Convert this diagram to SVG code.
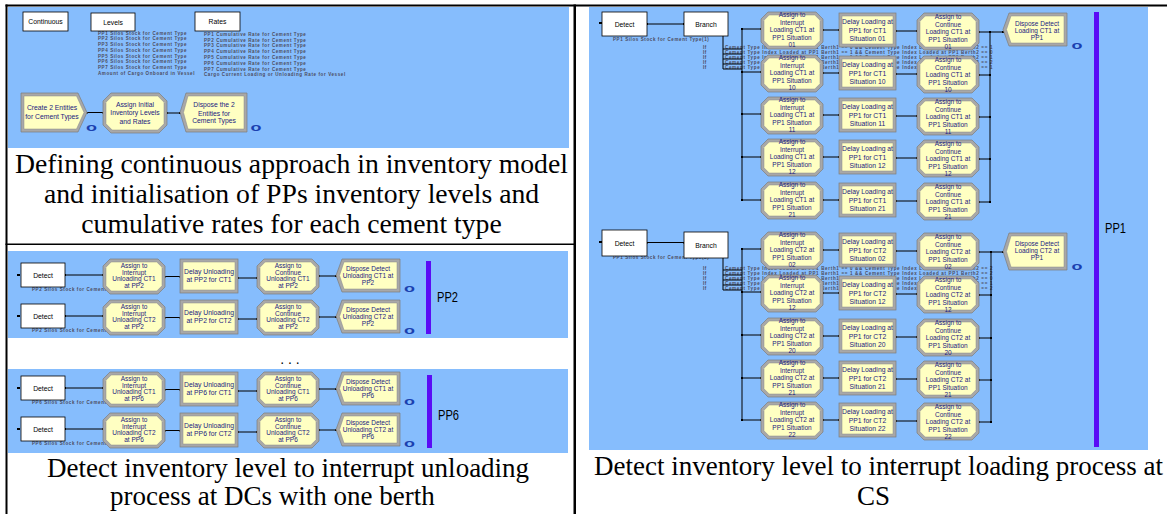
<svg xmlns="http://www.w3.org/2000/svg" xmlns:xlink="http://www.w3.org/1999/xlink" width="1167" height="514" viewBox="0 0 1167 514">
<style>
.bg{fill:#86bdfd}
.blk{fill:#000}
.box{fill:#fff;stroke:#000;stroke-width:0.8}
.lbl{font-family:"Liberation Sans",Arial,sans-serif;font-size:6.8px;fill:#000;text-anchor:middle}
.nt{font-family:"Liberation Sans",Arial,sans-serif;font-size:6.5px;fill:#1b1b80;text-anchor:middle}
.nd{font-family:"Liberation Sans",Arial,sans-serif;font-size:6.8px;fill:#1b1b80;text-anchor:middle}
.tiny{font-family:"Liberation Sans",Arial,sans-serif;font-size:4.5px;font-weight:bold;fill:#4b4b5e;letter-spacing:0.6px}
.cnt{font-family:"Liberation Sans",Arial,sans-serif;font-size:10px;font-weight:bold;fill:#1a40b0;text-anchor:middle}
.conn line{stroke:#000;stroke-width:1;marker-start:url(#pt);marker-end:url(#pt)}
.conn .bus{stroke:#000;stroke-width:1;marker-start:none;marker-end:none}
.bar{fill:#5a0cf5}
.pp{font-family:"Liberation Sans",Arial,sans-serif;font-size:15px;fill:#000}
.cap{font-family:"Liberation Serif","Times New Roman",serif;font-size:27px;fill:#000}
.capt{font-family:"Liberation Serif","Times New Roman",serif;font-size:27.7px;fill:#000;text-anchor:middle}
.og{fill:#a8a8a8;stroke:#7d7d7d;stroke-width:0.7}
.iy{fill:#ffffc2;stroke:#8a8a8a;stroke-width:0.5}
</style>
<defs>
<marker id="pt" markerUnits="userSpaceOnUse" markerWidth="2" markerHeight="2" refX="1" refY="1"><rect width="2" height="2" fill="#000"/></marker>
<g id="asL"><path class="og" d="M7,0H55L62,7V28L55,35H7L0,28V7Z"/><path class="iy" d="M8.2,3H53.8L59,8.2V26.8L53.8,32H8.2L3,26.8V8.2Z"/></g>
<g id="asR"><path class="og" d="M7,0H55L62,7V30L55,37H7L0,30V7Z"/><path class="iy" d="M8.2,3H53.8L59,8.2V28.8L53.8,34H8.2L3,28.8V8.2Z"/></g>
<g id="dlL"><rect class="og" width="58" height="34"/><rect class="iy" x="3" y="3" width="52" height="28"/></g>
<g id="dlR"><rect class="og" width="57" height="34"/><rect class="iy" x="3" y="3" width="51" height="28"/></g>
<g id="dsL"><path class="og" d="M6,0H64V33H6L0,16.5Z"/><path class="iy" d="M8,3H61V30H8L3.5,16.5Z"/></g>
<g id="dsR"><path class="og" d="M6,0H64V37H6L0,18.5Z"/><path class="iy" d="M8,3H61V34H8L3.5,18.5Z"/></g>
</defs>

<!-- frame and backgrounds -->
<rect class="bg" x="8" y="7" width="561" height="141"/>
<rect class="bg" x="8" y="251" width="560" height="87"/>
<rect class="bg" x="8" y="369" width="560" height="84"/>
<rect class="bg" x="589" y="7" width="559" height="443"/>
<rect class="blk" x="5.5" y="4.5" width="1161.5" height="2"/>
<rect class="blk" x="5.5" y="4.5" width="2" height="510"/>
<rect class="blk" x="573.5" y="4.5" width="2.5" height="510"/>
<rect class="blk" x="5.5" y="243.5" width="570" height="1.5"/>

<!-- tiny Arena texts -->
<g id="levels-list" class="tiny">
<text x="98" y="35">PP1 Silos Stock for Cement Type</text>
<text x="98" y="40.4">PP2 Silos Stock for Cement Type</text>
<text x="98" y="46">PP3 Silos Stock for Cement Type</text>
<text x="98" y="51.6">PP4 Silos Stock for Cement Type</text>
<text x="98" y="57.6">PP5 Silos Stock for Cement Type</text>
<text x="98" y="63.3">PP6 Silos Stock for Cement Type</text>
<text x="98" y="69">PP7 Silos Stock for Cement Type</text>
<text x="98" y="74.6">Amount of Cargo Onboard in Vessel</text>
</g>
<g id="rates-list" class="tiny">
<text x="204" y="36.3">PP1 Cumulative Rate for Cement Type</text>
<text x="204" y="41.6">PP2 Cumulative Rate for Cement Type</text>
<text x="204" y="47.3">PP3 Cumulative Rate for Cement Type</text>
<text x="204" y="53.3">PP4 Cumulative Rate for Cement Type</text>
<text x="204" y="58.6">PP5 Cumulative Rate for Cement Type</text>
<text x="204" y="64.6">PP6 Cumulative Rate for Cement Type</text>
<text x="204" y="70.6">PP7 Cumulative Rate for Cement Type</text>
<text x="204" y="75.6">Cargo Current Loading or Unloading Rate for Vessel</text>
</g>
<g id="detect-labels" class="tiny">
<text x="32" y="291">PP2 Silos Stock for Cement Type(1)</text>
<text x="32" y="332">PP2 Silos Stock for Cement Type(2)</text>
<text x="32" y="404">PP6 Silos Stock for Cement Type(1)</text>
<text x="32" y="445">PP6 Silos Stock for Cement Type(2)</text>
<text x="613" y="40.5">PP1 Silos Stock for Cement Type(1)</text>
<text x="613" y="259">PP1 Silos Stock for Cement Type(2)</text>
</g>
<g id="branch1-conditions" class="tiny">
<text x="703" y="48.5">If</text><text x="703" y="53.5">If</text><text x="703" y="58.5">If</text><text x="703" y="63.5">If</text><text x="703" y="68.5">If</text>
<text x="725" y="48.5" textLength="268">Cement Type Index Loaded at PP1 Berth1 == 0 &amp;&amp; Cement Type Index Loaded at PP1 Berth2 == 1</text>
<text x="725" y="53.5" textLength="268">Cement Type Index Loaded at PP1 Berth1 == 1 &amp;&amp; Cement Type Index Loaded at PP1 Berth2 == 0</text>
<text x="725" y="58.5" textLength="268">Cement Type Index Loaded at PP1 Berth1 == 1 &amp;&amp; Cement Type Index Loaded at PP1 Berth2 == 1</text>
<text x="725" y="63.5" textLength="268">Cement Type Index Loaded at PP1 Berth1 == 1 &amp;&amp; Cement Type Index Loaded at PP1 Berth2 == 2</text>
<text x="725" y="68.5" textLength="268">Cement Type Index Loaded at PP1 Berth1 == 2 &amp;&amp; Cement Type Index Loaded at PP1 Berth2 == 1</text>
</g>
<g id="branch2-conditions" class="tiny">
<text x="703" y="269.5">If</text><text x="703" y="274.5">If</text><text x="703" y="279.5">If</text><text x="703" y="284.5">If</text><text x="703" y="289.5">If</text>
<text x="725" y="269.5" textLength="268">Cement Type Index Loaded at PP1 Berth1 == 0 &amp;&amp; Cement Type Index Loaded at PP1 Berth2 == 2</text>
<text x="725" y="274.5" textLength="268">Cement Type Index Loaded at PP1 Berth1 == 1 &amp;&amp; Cement Type Index Loaded at PP1 Berth2 == 2</text>
<text x="725" y="279.5" textLength="268">Cement Type Index Loaded at PP1 Berth1 == 2 &amp;&amp; Cement Type Index Loaded at PP1 Berth2 == 0</text>
<text x="725" y="284.5" textLength="268">Cement Type Index Loaded at PP1 Berth1 == 2 &amp;&amp; Cement Type Index Loaded at PP1 Berth2 == 1</text>
<text x="725" y="289.5" textLength="268">Cement Type Index Loaded at PP1 Berth1 == 2 &amp;&amp; Cement Type Index Loaded at PP1 Berth2 == 2</text>
</g>

<!-- connectors -->
<g id="connectors" class="conn">
<line x1="87" y1="112.5" x2="103" y2="112.5"/>
<line x1="167" y1="113" x2="180" y2="113"/>
<!-- PP2 -->
<line x1="18" y1="275" x2="19" y2="275"/>
<line x1="65" y1="275" x2="103" y2="275"/>
<line x1="165" y1="276.5" x2="180" y2="276.5"/>
<line x1="238" y1="278" x2="257" y2="278"/>
<line x1="319" y1="276" x2="336" y2="276"/>
<line x1="18" y1="316" x2="19" y2="316"/>
<line x1="65" y1="316" x2="103" y2="316"/>
<line x1="165" y1="317.5" x2="180" y2="317.5"/>
<line x1="238" y1="319" x2="257" y2="319"/>
<line x1="319" y1="317" x2="336" y2="317"/>
<!-- PP6 -->
<line x1="18" y1="388" x2="19" y2="388"/>
<line x1="65" y1="388" x2="103" y2="388"/>
<line x1="165" y1="389.5" x2="180" y2="389.5"/>
<line x1="238" y1="391" x2="257" y2="391"/>
<line x1="319" y1="389" x2="336" y2="389"/>
<line x1="18" y1="429" x2="19" y2="429"/>
<line x1="65" y1="429" x2="103" y2="429"/>
<line x1="165" y1="430.5" x2="180" y2="430.5"/>
<line x1="238" y1="432" x2="257" y2="432"/>
<line x1="319" y1="430" x2="336" y2="430"/>
<!-- PP1 CT1 -->
<line x1="600" y1="23" x2="601" y2="23"/>
<line x1="647" y1="24" x2="684" y2="24"/>
<line class="bus" x1="723" y1="36" x2="723" y2="69"/>
<line class="bus" x1="723" y1="49" x2="742" y2="49"/>
<line class="bus" x1="723" y1="54" x2="742" y2="54"/>
<line class="bus" x1="723" y1="59" x2="742" y2="59"/>
<line class="bus" x1="723" y1="64" x2="742" y2="64"/>
<line class="bus" x1="723" y1="69" x2="742" y2="69"/>
<line class="bus" x1="742" y1="29" x2="742" y2="200"/>
<line x1="742" y1="29" x2="761" y2="29"/>
<line x1="742" y1="72" x2="761" y2="72"/>
<line x1="742" y1="114" x2="761" y2="114"/>
<line x1="742" y1="157" x2="761" y2="157"/>
<line x1="742" y1="200" x2="761" y2="200"/>
<line x1="823" y1="30" x2="839" y2="30"/>
<line x1="823" y1="73" x2="839" y2="73"/>
<line x1="823" y1="115" x2="839" y2="115"/>
<line x1="823" y1="157" x2="839" y2="157"/>
<line x1="823" y1="200" x2="839" y2="200"/>
<line x1="896" y1="31" x2="917" y2="31"/>
<line x1="896" y1="74" x2="917" y2="74"/>
<line x1="896" y1="116" x2="917" y2="116"/>
<line x1="896" y1="158" x2="917" y2="158"/>
<line x1="896" y1="201" x2="917" y2="201"/>
<line x1="979" y1="32" x2="990" y2="32"/>
<line x1="979" y1="75" x2="990" y2="75"/>
<line x1="979" y1="117" x2="990" y2="117"/>
<line x1="979" y1="159" x2="990" y2="159"/>
<line x1="979" y1="202" x2="990" y2="202"/>
<line class="bus" x1="990" y1="32" x2="990" y2="202"/>
<line x1="990" y1="32" x2="1003" y2="32"/>
<!-- PP1 CT2 -->
<line x1="600" y1="242" x2="601" y2="242"/>
<line x1="647" y1="242.5" x2="684" y2="242.5"/>
<line class="bus" x1="723" y1="258" x2="723" y2="290"/>
<line class="bus" x1="723" y1="270" x2="742" y2="270"/>
<line class="bus" x1="723" y1="275" x2="742" y2="275"/>
<line class="bus" x1="723" y1="280" x2="742" y2="280"/>
<line class="bus" x1="723" y1="285" x2="742" y2="285"/>
<line class="bus" x1="723" y1="290" x2="742" y2="290"/>
<line class="bus" x1="742" y1="249" x2="742" y2="420"/>
<line x1="742" y1="249" x2="761" y2="249"/>
<line x1="742" y1="292" x2="761" y2="292"/>
<line x1="742" y1="335" x2="761" y2="335"/>
<line x1="742" y1="378" x2="761" y2="378"/>
<line x1="742" y1="420" x2="761" y2="420"/>
<line x1="823" y1="250" x2="839" y2="250"/>
<line x1="823" y1="293" x2="839" y2="293"/>
<line x1="823" y1="336" x2="839" y2="336"/>
<line x1="823" y1="378" x2="839" y2="378"/>
<line x1="823" y1="420" x2="839" y2="420"/>
<line x1="896" y1="251" x2="917" y2="251"/>
<line x1="896" y1="294" x2="917" y2="294"/>
<line x1="896" y1="337" x2="917" y2="337"/>
<line x1="896" y1="379" x2="917" y2="379"/>
<line x1="896" y1="421" x2="917" y2="421"/>
<line x1="979" y1="252" x2="991" y2="252"/>
<line x1="979" y1="295" x2="991" y2="295"/>
<line x1="979" y1="338" x2="991" y2="338"/>
<line x1="979" y1="380" x2="991" y2="380"/>
<line x1="979" y1="422" x2="991" y2="422"/>
<line class="bus" x1="991" y1="252" x2="991" y2="422"/>
<line x1="991" y1="252" x2="1003" y2="252"/>
</g>

<!-- top-left nodes -->
<g id="continuous"><rect class="box" x="23" y="12" width="45" height="19"/><text class="lbl" x="45.5" y="24">Continuous</text></g>
<g id="levels"><rect class="box" x="91" y="13" width="44" height="18"/><text class="lbl" x="113" y="24.5">Levels</text></g>
<g id="rates"><rect class="box" x="195" y="12" width="45" height="19"/><text class="lbl" x="217.5" y="24">Rates</text></g>
<g id="create-entities"><path class="og" d="M21,93H78L87,112.5L78,132H21Z"/><path class="iy" d="M24,96H76.5L84,112.5L76.5,129H24Z"/><text class="nd" x="52" y="110">Create 2 Entities</text><text class="nd" x="52" y="119">for Cement Types</text></g>
<g id="assign-initial"><path class="og" d="M111,93H159L167,101V125L159,133H111L103,125V101Z"/><path class="iy" d="M112.2,96H157.8L164,102.2V123.8L157.8,130H112.2L106,123.8V102.2Z"/><text class="nd" x="135" y="106.5">Assign Initial</text><text class="nd" x="135" y="115.3">Inventory Levels</text><text class="nd" x="135" y="123.5">and Rates</text></g>
<g id="dispose-entities"><path class="og" d="M186,93H247V132H186L180,112.5Z"/><path class="iy" d="M188,96H244V129H188L183.5,112.5Z"/><text class="nd" x="214" y="107">Dispose the 2</text><text class="nd" x="214" y="115.5">Entities for</text><text class="nd" x="214" y="123">Cement Types</text></g>

<!-- PP2 nodes -->
<g id="pp2-detect-ct1"><rect class="box" x="21" y="263" width="44" height="24"/><text class="lbl" x="43" y="277.5">Detect</text></g>
<g id="pp2-assign-int-ct1"><use xlink:href="#asL" x="103" y="259"/><text class="nt" x="134" y="268">Assign to</text><text class="nt" x="134" y="274.5">Interrupt</text><text class="nt" x="134" y="281">Unloading CT1</text><text class="nt" x="134" y="287.5">at PP2</text></g>
<g id="pp2-delay-ct1"><use xlink:href="#dlL" x="180" y="259"/><text class="nd" x="209" y="274.3">Delay Unloading</text><text class="nd" x="209" y="282.3">at PP2 for CT1</text></g>
<g id="pp2-assign-cont-ct1"><use xlink:href="#asL" x="257" y="259"/><text class="nt" x="288" y="268">Assign to</text><text class="nt" x="288" y="274.5">Continue</text><text class="nt" x="288" y="281">Unloading CT1</text><text class="nt" x="288" y="287.5">at PP2</text></g>
<g id="pp2-dispose-ct1"><use xlink:href="#dsL" x="336" y="259"/><text class="nt" x="368" y="271">Dispose Detect</text><text class="nt" x="368" y="278.3">Unloading CT1 at</text><text class="nt" x="368" y="284.5">PP2</text></g>
<g id="pp2-detect-ct2"><rect class="box" x="21" y="304" width="44" height="24"/><text class="lbl" x="43" y="318.5">Detect</text></g>
<g id="pp2-assign-int-ct2"><use xlink:href="#asL" x="103" y="300"/><text class="nt" x="134" y="309">Assign to</text><text class="nt" x="134" y="315.5">Interrupt</text><text class="nt" x="134" y="322">Unloading CT2</text><text class="nt" x="134" y="328.5">at PP2</text></g>
<g id="pp2-delay-ct2"><use xlink:href="#dlL" x="180" y="300"/><text class="nd" x="209" y="315.3">Delay Unloading</text><text class="nd" x="209" y="323.3">at PP2 for CT2</text></g>
<g id="pp2-assign-cont-ct2"><use xlink:href="#asL" x="257" y="300"/><text class="nt" x="288" y="309">Assign to</text><text class="nt" x="288" y="315.5">Continue</text><text class="nt" x="288" y="322">Unloading CT2</text><text class="nt" x="288" y="328.5">at PP2</text></g>
<g id="pp2-dispose-ct2"><use xlink:href="#dsL" x="336" y="300"/><text class="nt" x="368" y="312">Dispose Detect</text><text class="nt" x="368" y="319.3">Unloading CT2 at</text><text class="nt" x="368" y="325.5">PP2</text></g>

<!-- PP6 nodes -->
<g id="pp6-detect-ct1"><rect class="box" x="21" y="376" width="44" height="24"/><text class="lbl" x="43" y="390.5">Detect</text></g>
<g id="pp6-assign-int-ct1"><use xlink:href="#asL" x="103" y="372"/><text class="nt" x="134" y="381">Assign to</text><text class="nt" x="134" y="387.5">Interrupt</text><text class="nt" x="134" y="394">Unloading CT1</text><text class="nt" x="134" y="400.5">at PP6</text></g>
<g id="pp6-delay-ct1"><use xlink:href="#dlL" x="180" y="372"/><text class="nd" x="209" y="387.3">Delay Unloading</text><text class="nd" x="209" y="395.3">at PP6 for CT1</text></g>
<g id="pp6-assign-cont-ct1"><use xlink:href="#asL" x="257" y="372"/><text class="nt" x="288" y="381">Assign to</text><text class="nt" x="288" y="387.5">Continue</text><text class="nt" x="288" y="394">Unloading CT1</text><text class="nt" x="288" y="400.5">at PP6</text></g>
<g id="pp6-dispose-ct1"><use xlink:href="#dsL" x="336" y="372"/><text class="nt" x="368" y="384">Dispose Detect</text><text class="nt" x="368" y="391.3">Unloading CT1 at</text><text class="nt" x="368" y="397.5">PP6</text></g>
<g id="pp6-detect-ct2"><rect class="box" x="21" y="417" width="44" height="24"/><text class="lbl" x="43" y="431.5">Detect</text></g>
<g id="pp6-assign-int-ct2"><use xlink:href="#asL" x="103" y="413"/><text class="nt" x="134" y="422">Assign to</text><text class="nt" x="134" y="428.5">Interrupt</text><text class="nt" x="134" y="435">Unloading CT2</text><text class="nt" x="134" y="441.5">at PP6</text></g>
<g id="pp6-delay-ct2"><use xlink:href="#dlL" x="180" y="413"/><text class="nd" x="209" y="428.3">Delay Unloading</text><text class="nd" x="209" y="436.3">at PP6 for CT2</text></g>
<g id="pp6-assign-cont-ct2"><use xlink:href="#asL" x="257" y="413"/><text class="nt" x="288" y="422">Assign to</text><text class="nt" x="288" y="428.5">Continue</text><text class="nt" x="288" y="435">Unloading CT2</text><text class="nt" x="288" y="441.5">at PP6</text></g>
<g id="pp6-dispose-ct2"><use xlink:href="#dsL" x="336" y="413"/><text class="nt" x="368" y="425">Dispose Detect</text><text class="nt" x="368" y="432.3">Unloading CT2 at</text><text class="nt" x="368" y="438.5">PP6</text></g>

<!-- PP1 CT1 nodes -->
<g id="pp1-detect-ct1"><rect class="box" x="602" y="12" width="45" height="24"/><text class="lbl" x="624.5" y="26.5">Detect</text></g>
<g id="pp1-branch-ct1"><rect class="box" x="684" y="12" width="44" height="24"/><text class="lbl" x="706" y="26.5">Branch</text></g>
<g id="pp1-int-ct1-01"><use xlink:href="#asR" x="761" y="12"/><text class="nt" x="792" y="17">Assign to</text><text class="nt" x="792" y="24.5">Interrupt</text><text class="nt" x="792" y="32">Loading CT1 at</text><text class="nt" x="792" y="39.5">PP1 Situation</text><text class="nt" x="792" y="47">01</text></g>
<g id="pp1-int-ct1-10"><use xlink:href="#asR" x="761" y="55"/><text class="nt" x="792" y="60">Assign to</text><text class="nt" x="792" y="67.5">Interrupt</text><text class="nt" x="792" y="75">Loading CT1 at</text><text class="nt" x="792" y="82.5">PP1 Situation</text><text class="nt" x="792" y="90">10</text></g>
<g id="pp1-int-ct1-11"><use xlink:href="#asR" x="761" y="97"/><text class="nt" x="792" y="102">Assign to</text><text class="nt" x="792" y="109.5">Interrupt</text><text class="nt" x="792" y="117">Loading CT1 at</text><text class="nt" x="792" y="124.5">PP1 Situation</text><text class="nt" x="792" y="132">11</text></g>
<g id="pp1-int-ct1-12"><use xlink:href="#asR" x="761" y="139"/><text class="nt" x="792" y="144">Assign to</text><text class="nt" x="792" y="151.5">Interrupt</text><text class="nt" x="792" y="159">Loading CT1 at</text><text class="nt" x="792" y="166.5">PP1 Situation</text><text class="nt" x="792" y="174">12</text></g>
<g id="pp1-int-ct1-21"><use xlink:href="#asR" x="761" y="182"/><text class="nt" x="792" y="187">Assign to</text><text class="nt" x="792" y="194.5">Interrupt</text><text class="nt" x="792" y="202">Loading CT1 at</text><text class="nt" x="792" y="209.5">PP1 Situation</text><text class="nt" x="792" y="217">21</text></g>
<g id="pp1-delay-ct1-01"><use xlink:href="#dlR" x="839" y="13"/><text class="nd" x="867.5" y="24">Delay Loading at</text><text class="nd" x="867.5" y="32.5">PP1 for CT1</text><text class="nd" x="867.5" y="41">Situation 01</text></g>
<g id="pp1-delay-ct1-10"><use xlink:href="#dlR" x="839" y="56"/><text class="nd" x="867.5" y="67">Delay Loading at</text><text class="nd" x="867.5" y="75.5">PP1 for CT1</text><text class="nd" x="867.5" y="84">Situation 10</text></g>
<g id="pp1-delay-ct1-11"><use xlink:href="#dlR" x="839" y="98"/><text class="nd" x="867.5" y="109">Delay Loading at</text><text class="nd" x="867.5" y="117.5">PP1 for CT1</text><text class="nd" x="867.5" y="126">Situation 11</text></g>
<g id="pp1-delay-ct1-12"><use xlink:href="#dlR" x="839" y="140"/><text class="nd" x="867.5" y="151">Delay Loading at</text><text class="nd" x="867.5" y="159.5">PP1 for CT1</text><text class="nd" x="867.5" y="168">Situation 12</text></g>
<g id="pp1-delay-ct1-21"><use xlink:href="#dlR" x="839" y="183"/><text class="nd" x="867.5" y="194">Delay Loading at</text><text class="nd" x="867.5" y="202.5">PP1 for CT1</text><text class="nd" x="867.5" y="211">Situation 21</text></g>
<g id="pp1-cont-ct1-01"><use xlink:href="#asR" x="917" y="13"/><text class="nt" x="948" y="19">Assign to</text><text class="nt" x="948" y="26.5">Continue</text><text class="nt" x="948" y="34">Loading CT1 at</text><text class="nt" x="948" y="41.5">PP1 Situation</text><text class="nt" x="948" y="49">01</text></g>
<g id="pp1-cont-ct1-10"><use xlink:href="#asR" x="917" y="56"/><text class="nt" x="948" y="62">Assign to</text><text class="nt" x="948" y="69.5">Continue</text><text class="nt" x="948" y="77">Loading CT1 at</text><text class="nt" x="948" y="84.5">PP1 Situation</text><text class="nt" x="948" y="92">10</text></g>
<g id="pp1-cont-ct1-11"><use xlink:href="#asR" x="917" y="98"/><text class="nt" x="948" y="104">Assign to</text><text class="nt" x="948" y="111.5">Continue</text><text class="nt" x="948" y="119">Loading CT1 at</text><text class="nt" x="948" y="126.5">PP1 Situation</text><text class="nt" x="948" y="134">11</text></g>
<g id="pp1-cont-ct1-12"><use xlink:href="#asR" x="917" y="140"/><text class="nt" x="948" y="146">Assign to</text><text class="nt" x="948" y="153.5">Continue</text><text class="nt" x="948" y="161">Loading CT1 at</text><text class="nt" x="948" y="168.5">PP1 Situation</text><text class="nt" x="948" y="176">12</text></g>
<g id="pp1-cont-ct1-21"><use xlink:href="#asR" x="917" y="183"/><text class="nt" x="948" y="189">Assign to</text><text class="nt" x="948" y="196.5">Continue</text><text class="nt" x="948" y="204">Loading CT1 at</text><text class="nt" x="948" y="211.5">PP1 Situation</text><text class="nt" x="948" y="219">21</text></g>
<g id="pp1-dispose-ct1"><use xlink:href="#dsL" x="1003" y="13"/><text class="nt" x="1037" y="26">Dispose Detect</text><text class="nt" x="1037" y="33">Loading CT1 at</text><text class="nt" x="1037" y="40">PP1</text></g>

<!-- PP1 CT2 nodes -->
<g id="pp1-detect-ct2"><rect class="box" x="602" y="230" width="45" height="26"/><text class="lbl" x="624.5" y="245.5">Detect</text></g>
<g id="pp1-branch-ct2"><rect class="box" x="684" y="232" width="44" height="26"/><text class="lbl" x="706" y="247.5">Branch</text></g>
<g id="pp1-int-ct2-02"><use xlink:href="#asR" x="761" y="232"/><text class="nt" x="792" y="237">Assign to</text><text class="nt" x="792" y="244.5">Interrupt</text><text class="nt" x="792" y="252">Loading CT2 at</text><text class="nt" x="792" y="259.5">PP1 Situation</text><text class="nt" x="792" y="267">02</text></g>
<g id="pp1-int-ct2-12"><use xlink:href="#asR" x="761" y="275"/><text class="nt" x="792" y="280">Assign to</text><text class="nt" x="792" y="287.5">Interrupt</text><text class="nt" x="792" y="295">Loading CT2 at</text><text class="nt" x="792" y="302.5">PP1 Situation</text><text class="nt" x="792" y="310">12</text></g>
<g id="pp1-int-ct2-20"><use xlink:href="#asR" x="761" y="318"/><text class="nt" x="792" y="323">Assign to</text><text class="nt" x="792" y="330.5">Interrupt</text><text class="nt" x="792" y="338">Loading CT2 at</text><text class="nt" x="792" y="345.5">PP1 Situation</text><text class="nt" x="792" y="353">20</text></g>
<g id="pp1-int-ct2-21"><use xlink:href="#asR" x="761" y="360"/><text class="nt" x="792" y="365">Assign to</text><text class="nt" x="792" y="372.5">Interrupt</text><text class="nt" x="792" y="380">Loading CT2 at</text><text class="nt" x="792" y="387.5">PP1 Situation</text><text class="nt" x="792" y="395">21</text></g>
<g id="pp1-int-ct2-22"><use xlink:href="#asR" x="761" y="402"/><text class="nt" x="792" y="407">Assign to</text><text class="nt" x="792" y="414.5">Interrupt</text><text class="nt" x="792" y="422">Loading CT2 at</text><text class="nt" x="792" y="429.5">PP1 Situation</text><text class="nt" x="792" y="437">22</text></g>
<g id="pp1-delay-ct2-02"><use xlink:href="#dlR" x="839" y="233"/><text class="nd" x="867.5" y="244">Delay Loading at</text><text class="nd" x="867.5" y="252.5">PP1 for CT2</text><text class="nd" x="867.5" y="261">Situation 02</text></g>
<g id="pp1-delay-ct2-12"><use xlink:href="#dlR" x="839" y="276"/><text class="nd" x="867.5" y="287">Delay Loading at</text><text class="nd" x="867.5" y="295.5">PP1 for CT2</text><text class="nd" x="867.5" y="304">Situation 12</text></g>
<g id="pp1-delay-ct2-20"><use xlink:href="#dlR" x="839" y="319"/><text class="nd" x="867.5" y="330">Delay Loading at</text><text class="nd" x="867.5" y="338.5">PP1 for CT2</text><text class="nd" x="867.5" y="347">Situation 20</text></g>
<g id="pp1-delay-ct2-21"><use xlink:href="#dlR" x="839" y="361"/><text class="nd" x="867.5" y="372">Delay Loading at</text><text class="nd" x="867.5" y="380.5">PP1 for CT2</text><text class="nd" x="867.5" y="389">Situation 21</text></g>
<g id="pp1-delay-ct2-22"><use xlink:href="#dlR" x="839" y="403"/><text class="nd" x="867.5" y="414">Delay Loading at</text><text class="nd" x="867.5" y="422.5">PP1 for CT2</text><text class="nd" x="867.5" y="431">Situation 22</text></g>
<g id="pp1-cont-ct2-02"><use xlink:href="#asR" x="917" y="233"/><text class="nt" x="948" y="239">Assign to</text><text class="nt" x="948" y="246.5">Continue</text><text class="nt" x="948" y="254">Loading CT2 at</text><text class="nt" x="948" y="261.5">PP1 Situation</text><text class="nt" x="948" y="269">02</text></g>
<g id="pp1-cont-ct2-12"><use xlink:href="#asR" x="917" y="276"/><text class="nt" x="948" y="282">Assign to</text><text class="nt" x="948" y="289.5">Continue</text><text class="nt" x="948" y="297">Loading CT2 at</text><text class="nt" x="948" y="304.5">PP1 Situation</text><text class="nt" x="948" y="312">12</text></g>
<g id="pp1-cont-ct2-20"><use xlink:href="#asR" x="917" y="319"/><text class="nt" x="948" y="325">Assign to</text><text class="nt" x="948" y="332.5">Continue</text><text class="nt" x="948" y="340">Loading CT2 at</text><text class="nt" x="948" y="347.5">PP1 Situation</text><text class="nt" x="948" y="355">20</text></g>
<g id="pp1-cont-ct2-21"><use xlink:href="#asR" x="917" y="361"/><text class="nt" x="948" y="367">Assign to</text><text class="nt" x="948" y="374.5">Continue</text><text class="nt" x="948" y="382">Loading CT2 at</text><text class="nt" x="948" y="389.5">PP1 Situation</text><text class="nt" x="948" y="397">21</text></g>
<g id="pp1-cont-ct2-22"><use xlink:href="#asR" x="917" y="403"/><text class="nt" x="948" y="409">Assign to</text><text class="nt" x="948" y="416.5">Continue</text><text class="nt" x="948" y="424">Loading CT2 at</text><text class="nt" x="948" y="431.5">PP1 Situation</text><text class="nt" x="948" y="439">22</text></g>
<g id="pp1-dispose-ct2"><use xlink:href="#dsR" x="1003" y="233"/><text class="nt" x="1037" y="246">Dispose Detect</text><text class="nt" x="1037" y="253">Loading CT2 at</text><text class="nt" x="1037" y="260">PP1</text></g>

<!-- counters -->
<g id="counters" class="cnt">
<text transform="translate(91.5,131) scale(1.8,1)">o</text>
<text transform="translate(256,131) scale(1.8,1)">o</text>
<text transform="translate(409.5,291.5) scale(1.8,1)">o</text>
<text transform="translate(409.5,334) scale(1.8,1)">o</text>
<text transform="translate(409.5,405) scale(1.8,1)">o</text>
<text transform="translate(409.5,447) scale(1.8,1)">o</text>
<text transform="translate(1077,49) scale(1.8,1)">o</text>
<text transform="translate(1077,270) scale(1.8,1)">o</text>
</g>

<!-- PP bars -->
<g id="pp2-group"><rect class="bar" x="426" y="261" width="5" height="73"/><text class="pp" x="437" y="301.7" textLength="21" lengthAdjust="spacingAndGlyphs">PP2</text></g>
<g id="pp6-group"><rect class="bar" x="427" y="375" width="5" height="73"/><text class="pp" x="438" y="420" textLength="21" lengthAdjust="spacingAndGlyphs">PP6</text></g>
<g id="pp1-group"><rect class="bar" x="1094" y="12" width="5" height="435"/><text class="pp" x="1105" y="233" textLength="21" lengthAdjust="spacingAndGlyphs">PP1</text></g>

<text x="290" y="364" font-family="Liberation Sans, Arial, sans-serif" font-size="14" text-anchor="middle" fill="#000">. . .</text>

<!-- captions -->
<text class="capt" x="291.5" y="173">Defining continuous approach in inventory model</text>
<text class="capt" x="291.5" y="203">and initialisation of PPs inventory levels and</text>
<text class="capt" x="291.5" y="233">cumulative rates for each cement type</text>
<text class="cap" x="47" y="477">Detect inventory level to interrupt unloading</text>
<text class="cap" x="110" y="505">process at DCs with one berth</text>
<text class="cap" x="594" y="475">Detect inventory level to interrupt loading process at</text>
<text class="cap" x="857" y="505">CS</text>
</svg>
